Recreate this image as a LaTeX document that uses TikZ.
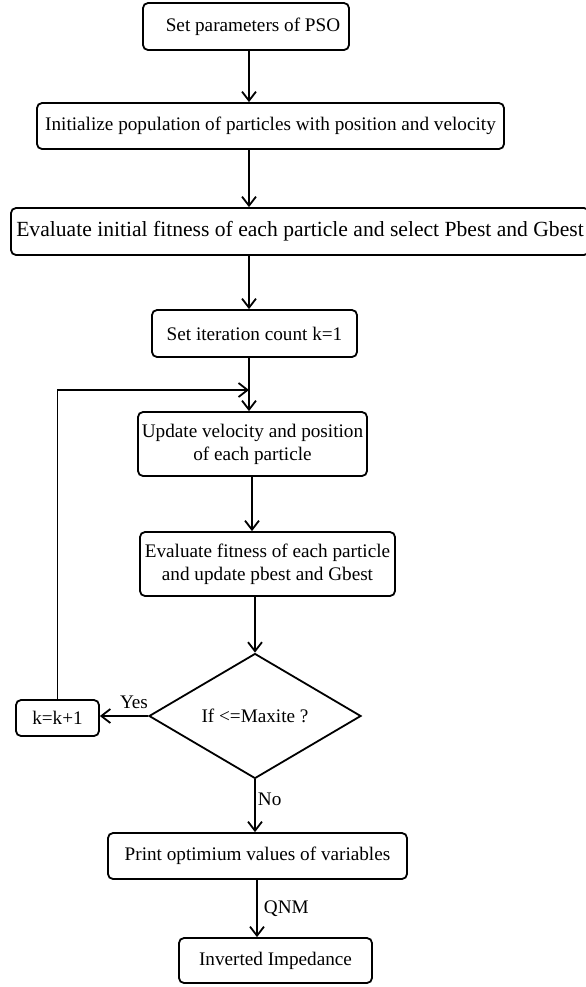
\documentclass[tikz,border=0pt]{standalone}
\usepackage{fontspec}
\setmainfont{Liberation Serif}
\usepackage{tikz}
\usetikzlibrary{shapes, arrows.meta, positioning, calc}

\begin{document}
\begin{tikzpicture}[x=0.5pt, y=-0.5pt,
  stepbox/.style={draw, rounded corners=2.5pt, line width=0.9pt, inner sep=0pt, align=center, font=\fontsize{9.6}{11.5}\selectfont},
  decision/.style={draw, diamond, line width=0.9pt, inner sep=0pt, font=\fontsize{9.6}{11.5}\selectfont},
  arr/.style={-{Straight Barb[length=4.5pt, width=7pt]}, line width=0.9pt},
  lbl/.style={inner sep=1pt, font=\fontsize{9.6}{11.5}\selectfont}]
  \useasboundingbox (0,0) rectangle (585,987);

  \node[stepbox, minimum width=103pt, minimum height=23.5pt] (params) at (246,26.5) {\hspace{7pt}Set parameters of PSO};
  \node[stepbox, minimum width=233.5pt, minimum height=23pt] (init) at (270.5,126) {Initialize population of particles with position and velocity};
  \node[stepbox, minimum width=289pt, minimum height=23.5pt, font=\fontsize{10.8}{13}\selectfont] (evalinit) at (300,231.5) {Evaluate initial fitness of each particle and select Pbest and Gbest};
  \node[stepbox, minimum width=102.5pt, minimum height=23.5pt] (count) at (254.5,333.5) {Set iteration count k=1};
  \node[stepbox, minimum width=114.5pt, minimum height=32pt] (update) at (252.5,444) {Update velocity and position\\of each particle};
  \node[stepbox, minimum width=127.5pt, minimum height=32pt] (evalfit) at (267.5,564) {Evaluate fitness of each particle\\and update pbest and Gbest};
  \node[decision, minimum width=106pt, minimum height=62.5pt] (check) at (255,716) {If <=Maxite ?};
  \node[stepbox, minimum width=41.5pt, minimum height=18pt] (incr) at (57.5,718) {k=k+1};
  \node[stepbox, minimum width=149.5pt, minimum height=23pt] (print) at (257.5,856) {Print optimium values of variables};
  \node[stepbox, minimum width=96.5pt, minimum height=22.5pt] (result) at (275.5,960.5) {Inverted Impedance};

  \coordinate (axis) at (249,0);
  \coordinate (join) at (249,390);

  % main flow
  \draw[arr] (params.south -| axis) -- (init.north -| axis);
  \draw[arr] (init.south -| axis) -- (evalinit.north -| axis);
  \draw[arr] (evalinit.south -| axis) -- (count.north -| axis);
  \draw[arr] (count.south -| axis) -- (update.north -| axis);
  \draw[arr] (update.south -| {(252,0)}) -- (evalfit.north -| {(252,0)});
  \draw[arr] (evalfit.south -| check.north) -- (check.north);
  \draw[arr] (check.south) -- (print.north -| check.south) node[lbl, midway, right, yshift=3pt] {No};
  \draw[arr] (print.south -| {(257,0)}) -- (result.north -| {(257,0)}) node[lbl, midway, right, xshift=2pt] {QNM};

  % loop back
  \draw[arr] (check.west) -- (check.west -| incr.east) node[lbl, midway, above, xshift=5pt, yshift=2pt] {Yes};
  \draw[arr] (incr.north) |- (join);
\end{tikzpicture}
\end{document}
